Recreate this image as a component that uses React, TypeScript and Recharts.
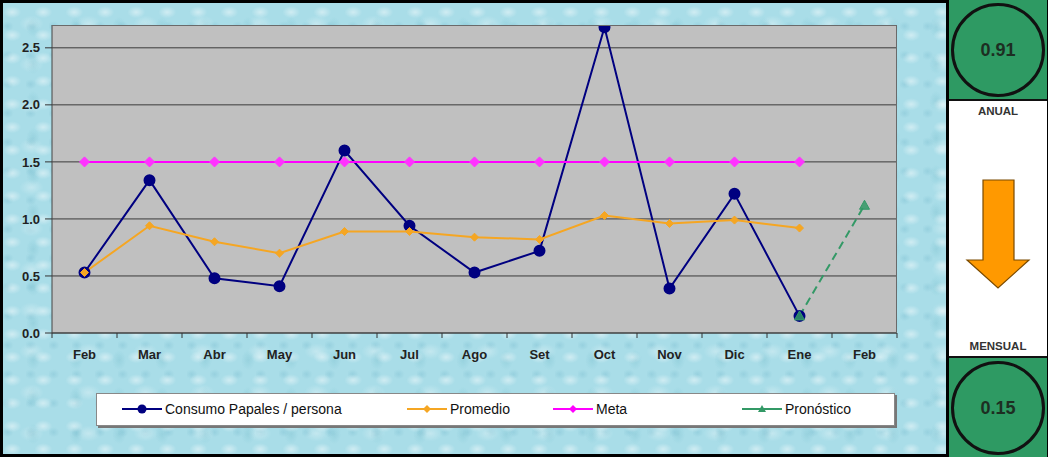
import React from 'react'
import { LineChart, Line, XAxis, YAxis, CartesianGrid } from 'recharts'

const meses = ['Feb', 'Mar', 'Abr', 'May', 'Jun', 'Jul', 'Ago', 'Set', 'Oct', 'Nov', 'Dic', 'Ene', 'Feb']
const consumo = [0.53, 1.34, 0.48, 0.41, 1.6, 0.94, 0.53, 0.72, 2.68, 0.39, 1.22, 0.15, null]
const promedio = [0.53, 0.94, 0.8, 0.7, 0.89, 0.89, 0.84, 0.82, 1.03, 0.96, 0.99, 0.92, null]
const meta = [1.5, 1.5, 1.5, 1.5, 1.5, 1.5, 1.5, 1.5, 1.5, 1.5, 1.5, 1.5, null]
const pronostico = [null, null, null, null, null, null, null, null, null, null, null, 0.15, 1.12]
const yTicks = [0, 0.5, 1, 1.5, 2, 2.5]
const valorAnual = '0.91'
const valorMensual = '0.15'

const data = meses.map((m, i) => ({
  k: String(i),
  mes: m,
  consumo: consumo[i],
  promedio: promedio[i],
  meta: meta[i],
  pronostico: pronostico[i]
}))

const CHART_W = 948
const CHART_H = 457
const MARGIN = { top: 25, right: 51, left: 0, bottom: 94 }
const Y_W = 52
const X_H = 30
const PLOT_W = CHART_W - MARGIN.right - MARGIN.left - Y_W
const PLOT_H = CHART_H - MARGIN.top - MARGIN.bottom - X_H
const HALF_BAND = PLOT_W / meses.length / 2

const font = '"Liberation Sans", Arial, sans-serif'

const diamond = (color: string, r: number) => (props: any) => {
  const { cx, cy, index } = props
  if (cx == null || cy == null) return <g key={`d${index}`} />
  return (
    <path
      key={`d${index}`}
      d={`M${cx},${cy - r} L${cx + r},${cy} L${cx},${cy + r} L${cx - r},${cy} Z`}
      fill={color}
      stroke={color}
    />
  )
}

const triangle = (color: string, r: number) => (props: any) => {
  const { cx, cy, index } = props
  if (cx == null || cy == null) return <g key={`t${index}`} />
  return (
    <path
      key={`t${index}`}
      d={`M${cx},${cy - r} L${cx + r},${cy + r * 0.8} L${cx - r},${cy + r * 0.8} Z`}
      fill={color}
      stroke={color}
      fillOpacity={0.85}
    />
  )
}

const MesTick = (props: any) => {
  const { x, y, payload, index } = props
  const last = index === meses.length - 1
  return (
    <g>
      <line x1={x - HALF_BAND} x2={x - HALF_BAND} y1={y} y2={y + 5} stroke="#333" />
      {last && <line x1={x + HALF_BAND} x2={x + HALF_BAND} y1={y} y2={y + 5} stroke="#333" />}
      <text x={x} y={y + 26} textAnchor="middle" fontFamily={font} fontWeight="bold" fontSize={13} fill="#222">
        {meses[Number(payload.value)]}
      </text>
    </g>
  )
}

const legendItems = [
  { label: 'Consumo Papales / persona', color: '#000080', marker: 'circle', left: 24 },
  { label: 'Promedio', color: '#f5a623', marker: 'diamond', left: 309 },
  { label: 'Meta', color: '#ff00ff', marker: 'diamond', left: 455 },
  { label: 'Pronóstico', color: '#339966', marker: 'triangle', left: 644 }
]

const LegendIcon = ({ color, marker }: { color: string; marker: string }) => (
  <svg width={42} height={12} style={{ display: 'block' }}>
    <line x1={1} x2={41} y1={6} y2={6} stroke={color} strokeWidth={2} />
    {marker === 'circle' && <circle cx={21} cy={6} r={4.5} fill={color} />}
    {marker === 'diamond' && <path d="M21,2 L25,6 L21,10 L17,6 Z" fill={color} />}
    {marker === 'triangle' && <path d="M21,2 L25,9 L17,9 Z" fill={color} />}
  </svg>
)

const texture = [
  'radial-gradient(ellipse 9px 6px at 30% 40%, rgba(255,255,255,0.45), transparent)',
  'radial-gradient(ellipse 7px 10px at 70% 65%, rgba(120,190,205,0.35), transparent)',
  'radial-gradient(ellipse 12px 8px at 50% 50%, rgba(255,255,255,0.3), transparent)',
  'radial-gradient(ellipse 6px 5px at 20% 80%, rgba(110,180,200,0.3), transparent)'
].join(',')

const Indicador = ({ valor, top }: { valor: string; top: number }) => (
  <div style={{ position: 'absolute', left: 0, top, width: 98, height: 99, background: '#2e9a63' }}>
    <div
      style={{
        position: 'absolute',
        left: 2,
        top: 3,
        width: 88,
        height: 88,
        borderRadius: '50%',
        border: '3px solid #111',
        display: 'flex',
        alignItems: 'center',
        justifyContent: 'center',
        fontFamily: font,
        fontWeight: 'bold',
        fontSize: 18,
        color: '#1d2e22'
      }}
    >
      {valor}
    </div>
  </div>
)

export default function App() {
  return (
    <div style={{ position: 'fixed', left: 0, top: 0, width: 1048, height: 457, background: '#000', overflow: 'hidden' }}>
      <div
        style={{
          position: 'absolute',
          left: 3,
          top: 3,
          width: 943,
          height: 451,
          backgroundColor: '#a9dde8',
          backgroundImage: texture,
          backgroundSize: '31px 23px, 43px 37px, 57px 41px, 23px 29px'
        }}
      />
      <div style={{ position: 'absolute', left: 0, top: 0 }}>
        <LineChart width={CHART_W} height={CHART_H} data={data} margin={MARGIN}>
          <CartesianGrid vertical={false} fill="#c0c0c0" stroke="#3a3a3a" horizontalValues={yTicks} />
          <XAxis
            dataKey="k"
            tick={<MesTick />}
            tickLine={false}
            tickSize={0}
            tickMargin={0}
            axisLine={{ stroke: '#444' }}
            height={X_H}
            interval={0}
            padding={{ left: HALF_BAND, right: HALF_BAND }}
          />
          <YAxis
            width={Y_W}
            domain={[0, 2.7]}
            ticks={yTicks}
            tickFormatter={(v: number) => v.toFixed(1)}
            tick={{ fontFamily: font, fontWeight: 'bold', fontSize: 13, fill: '#222' }}
            tickSize={7}
            tickMargin={5}
            tickLine={{ stroke: '#333' }}
            axisLine={{ stroke: '#444' }}
            allowDataOverflow
          />
          <Line
            dataKey="consumo"
            stroke="#000080"
            strokeWidth={2}
            dot={{ r: 5, fill: '#000080', stroke: '#000080' }}
            isAnimationActive={false}
          />
          <Line
            dataKey="promedio"
            stroke="#f5a623"
            strokeWidth={2}
            dot={diamond('#f5a623', 4)}
            isAnimationActive={false}
          />
          <Line
            dataKey="meta"
            stroke="#ff00ff"
            strokeWidth={2}
            dot={diamond('#ff33ff', 5)}
            isAnimationActive={false}
          />
          <Line
            dataKey="pronostico"
            stroke="#339966"
            strokeWidth={2}
            strokeDasharray="8 5"
            dot={triangle('#339966', 5)}
            isAnimationActive={false}
          />
        </LineChart>
      </div>
      {/* plot area frame */}
      <div
        style={{
          position: 'absolute',
          left: MARGIN.left + Y_W,
          top: MARGIN.top,
          width: PLOT_W,
          height: PLOT_H,
          borderTop: '1px solid #6a6a6a',
          borderRight: '1px solid #6a6a6a',
          boxSizing: 'border-box',
          pointerEvents: 'none'
        }}
      />
      <div
        style={{
          position: 'absolute',
          left: 96,
          top: 393,
          width: 797,
          height: 31,
          background: '#fff',
          border: '1px solid #888',
          boxShadow: '2px 2px 0 #777'
        }}
      >
        {legendItems.map(it => (
          <div
            key={it.label}
            style={{ position: 'absolute', left: it.left, top: 8, display: 'flex', alignItems: 'center', gap: 2 }}
          >
            <LegendIcon color={it.color} marker={it.marker} />
            <span style={{ fontFamily: font, fontSize: 14, color: '#111', lineHeight: '14px' }}>{it.label}</span>
          </div>
        ))}
      </div>
      <div style={{ position: 'absolute', left: 949, top: 0, width: 98, height: 457, background: '#fff' }}>
        <Indicador valor={valorAnual} top={0} />
        <div style={{ position: 'absolute', left: 0, top: 99, width: 98, height: 2, background: '#111' }} />
        <div
          style={{
            position: 'absolute',
            left: 0,
            top: 105,
            width: 98,
            textAlign: 'center',
            fontFamily: font,
            fontWeight: 'bold',
            fontSize: 11.5,
            color: '#333'
          }}
        >
          ANUAL
        </div>
        <svg style={{ position: 'absolute', left: 0, top: 0 }} width={98} height={457}>
          <path
            d="M34,180 L65,180 L65,260 L80,260 L49,288 L18,260 L34,260 Z"
            fill="#ff9900"
            stroke="#7a4a00"
            strokeWidth={1.2}
          />
        </svg>
        <div
          style={{
            position: 'absolute',
            left: 0,
            top: 340,
            width: 98,
            textAlign: 'center',
            fontFamily: font,
            fontWeight: 'bold',
            fontSize: 11.5,
            color: '#333'
          }}
        >
          MENSUAL
        </div>
        <div style={{ position: 'absolute', left: 0, top: 356, width: 98, height: 2, background: '#111' }} />
        <Indicador valor={valorMensual} top={358} />
      </div>
    </div>
  )
}
